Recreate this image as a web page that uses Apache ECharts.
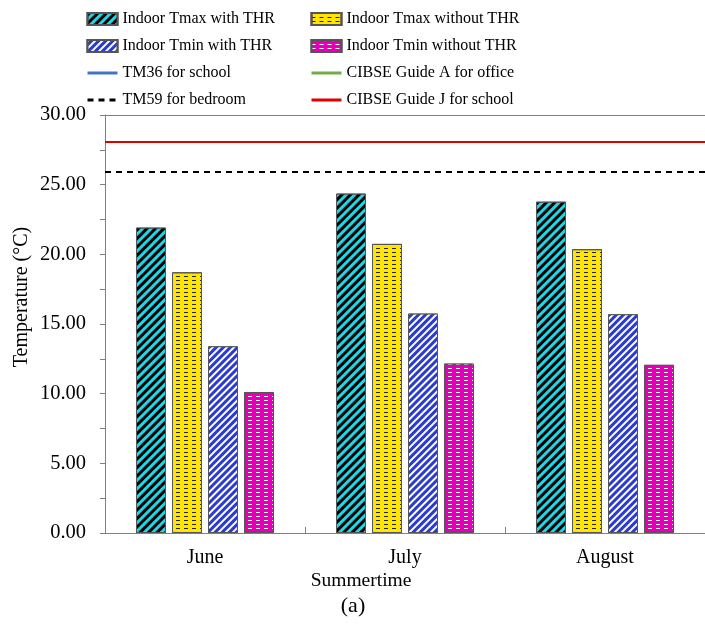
<!DOCTYPE html>
<html>
<head>
<meta charset="utf-8">
<script src="https://cdn.jsdelivr.net/npm/echarts@6/dist/echarts.min.js"></script>
<style>
  html, body { margin: 0; padding: 0; background: #fff; }
  #chart { width: 705px; height: 636px; }
</style>
</head>
<body>
<div id="chart"></div>
<script>
// Summer months on the category axis
const months = ['June', 'July', 'August'];

// Indoor temperatures (°C)
const tmaxWithTHR = [21.92, 24.36, 23.78];
const tmaxWithoutTHR = [18.71, 20.75, 20.37];
const tminWithTHR = [13.40, 15.75, 15.70];
const tminWithoutTHR = [10.12, 12.16, 12.07];

// Overheating thresholds (°C)
const tm36School = 28.1;
const cibseAOffice = 28.1;
const cibseJSchool = 28.1;
const tm59Bedroom = 25.9;

// Axis range
const yMin = 0, yMax = 30, yStep = 5;

const FONT = 'Liberation Serif';

const stripes = (color, on, off) => ({
  symbol: 'rect', symbolSize: 1, color: color,
  dashArrayX: [1, 0], dashArrayY: [on, off], rotation: -Math.PI / 4
});
const dashes = (color) => ({
  symbol: 'rect', symbolSize: 1, color: color,
  dashArrayX: [4, 4], dashArrayY: [1, 3], rotation: 0
});

function barSeries(name, data, fill, decal) {
  return {
    name: name, type: 'bar', data: data, xAxisIndex: 0,
    barGap: '20%', barCategoryGap: '31%',
    itemStyle: { color: fill, borderColor: '#555', borderWidth: 1, decal: decal },
    emphasis: { disabled: true }
  };
}

function thresholdSeries(name, value, color, type) {
  return {
    name: name, type: 'line', data: [], symbol: 'none', xAxisIndex: 0,
    lineStyle: { color: color, width: 3, type: type },
    itemStyle: { color: color },
    markLine: {
      silent: true, symbol: ['none', 'none'],
      label: { show: false },
      lineStyle: { color: color, width: 2.2, type: type },
      data: [{ yAxis: value }]
    }
  };
}

// line legend entries: line only, no marker dot
const lineItem = (name) => ({
  name: name,
  itemStyle: { color: 'transparent', borderColor: 'transparent', borderWidth: 0 },
  lineStyle: { width: 3 }
});

const chart = echarts.init(document.getElementById('chart'), null, { renderer: 'canvas' });

const legendCommon = {
  orient: 'vertical', top: 4, itemWidth: 30, itemHeight: 12, itemGap: 7,
  textStyle: { fontFamily: FONT, fontSize: 16, color: '#000', lineHeight: 20 },
  selectedMode: false
};

chart.setOption({
  animation: false,
  backgroundColor: '#fff',
  textStyle: { fontFamily: FONT },
  legend: [
    Object.assign({ left: 81, data: [
      { name: 'Indoor Tmax with THR', icon: 'rect' },
      { name: 'Indoor Tmin with THR', icon: 'rect' },
      lineItem('TM36 for school'), lineItem('TM59 for bedroom')] }, legendCommon),
    Object.assign({ left: 305, data: [
      { name: 'Indoor Tmax without THR', icon: 'rect' },
      { name: 'Indoor Tmin without THR', icon: 'rect' },
      lineItem('CIBSE Guide A for office'), lineItem('CIBSE Guide J for school')] }, legendCommon)
  ],
  grid: { left: 105, top: 115, width: 602, height: 418 },
  xAxis: [{
    type: 'category', data: months,
    axisLine: { lineStyle: { color: '#808080', width: 1 } },
    axisTick: { show: true, inside: true, length: 6, lineStyle: { color: '#808080' } },
    axisLabel: { fontFamily: FONT, fontSize: 20, color: '#000', margin: 15 }
  }, {
    // top frame line of the plot area
    type: 'category', data: months, position: 'top',
    axisLine: { show: true, lineStyle: { color: '#808080', width: 1 } },
    axisTick: { show: false }, axisLabel: { show: false }
  }],
  yAxis: {
    type: 'value', min: yMin, max: yMax, interval: yStep,
    axisLine: { show: true, lineStyle: { color: '#808080', width: 1 } },
    axisTick: { show: true, length: 5, lineStyle: { color: '#808080' } },
    minorTick: { show: true, splitNumber: 2, length: 5, lineStyle: { color: '#808080' } },
    splitLine: { show: false },
    axisLabel: { fontFamily: FONT, fontSize: 20.5, color: '#000', margin: 19,
      formatter: (v) => v.toFixed(2) }
  },
  graphic: [
    { type: 'text', x: 22, y: 297, rotation: Math.PI / 2,
      style: { text: 'Temperature (°C)', font: '20px "Liberation Serif"', fill: '#000',
        textAlign: 'center', textVerticalAlign: 'middle' } },
    { type: 'text', x: 361, y: 581,
      style: { text: 'Summertime', font: '19.5px "Liberation Serif"', fill: '#000',
        textAlign: 'center', textVerticalAlign: 'middle' } },
    { type: 'text', x: 353, y: 606,
      style: { text: '(a)', font: '22px "Liberation Serif"', fill: '#000',
        textAlign: 'center', textVerticalAlign: 'middle' } }
  ],
  series: [
    barSeries('Indoor Tmax with THR', tmaxWithTHR, '#1fd6e6', stripes('#000', 2.2, 2.2)),
    barSeries('Indoor Tmax without THR', tmaxWithoutTHR, '#ffe500', dashes('#222')),
    barSeries('Indoor Tmin with THR', tminWithTHR, '#2b3bcf', stripes('#fff', 1.5, 2.8)),
    barSeries('Indoor Tmin without THR', tminWithoutTHR, '#e000b8', dashes('#fff')),
    thresholdSeries('TM36 for school', tm36School, '#4472c4', 'solid'),
    thresholdSeries('TM59 for bedroom', tm59Bedroom, '#000', [6, 5]),
    thresholdSeries('CIBSE Guide A for office', cibseAOffice, '#70ad47', 'solid'),
    thresholdSeries('CIBSE Guide J for school', cibseJSchool, '#e00000', 'solid')
  ]
});
</script>
</body>
</html>
